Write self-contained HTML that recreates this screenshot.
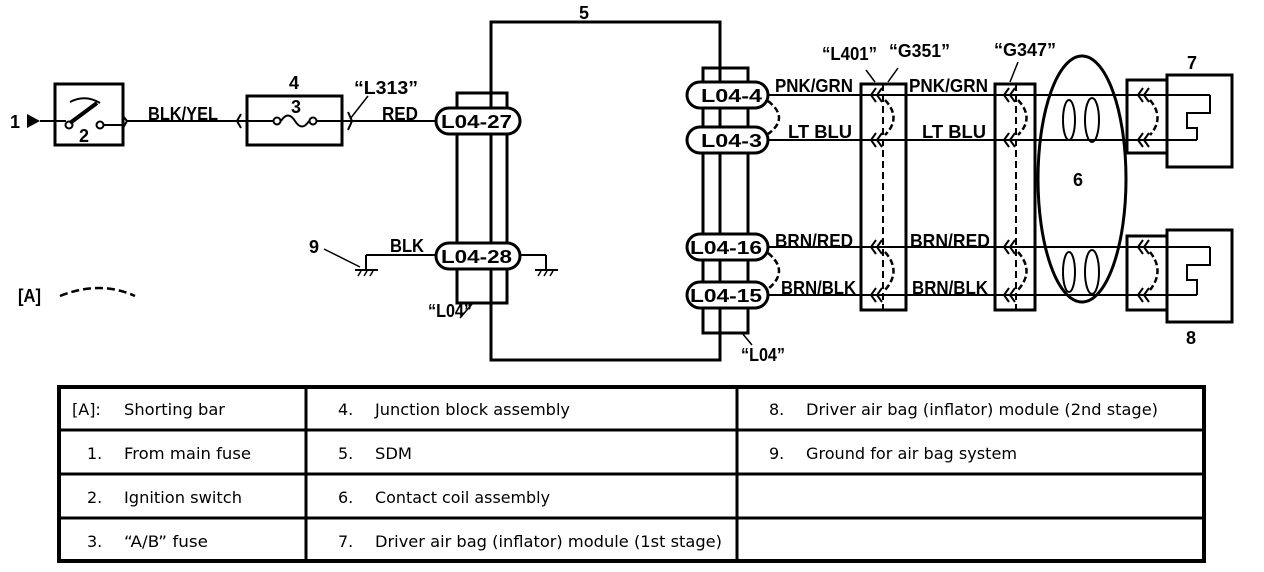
<!DOCTYPE html>
<html><head><meta charset="utf-8"><style>
html,body{margin:0;padding:0;background:#fff;}
svg{display:block;}
text{font-family:"Liberation Sans",Arial,sans-serif;font-weight:bold;font-size:18px;fill:#000;}
.t{font-family:"DejaVu Sans","Liberation Sans",sans-serif;font-weight:normal;font-size:16px;}
</style></head><body>
<svg width="1264" height="572" viewBox="0 0 1264 572" xmlns="http://www.w3.org/2000/svg">
<defs>
<g id="dbl" fill="none" stroke="#000" stroke-width="2">
<path d="M-4,-7 L-9,0 L-4,7"/><path d="M2,-7 L-3,0 L2,7"/>
</g>
</defs>
<g stroke="#000" fill="none">
<rect x="491" y="22" width="229" height="338" stroke-width="3"/>
<rect x="457" y="93" width="50" height="210" stroke-width="3" fill="none"/>
<rect x="703" y="68" width="45" height="265" stroke-width="3"/>
<polygon points="27,114 27,128 40,121" fill="#000" stroke="none"/>
<line x1="40" y1="121" x2="66" y2="121" stroke-width="2"/>
<rect x="55" y="84" width="68" height="61" stroke-width="3"/>
<circle cx="69" cy="125" r="3.5" stroke-width="2" fill="#fff"/>
<circle cx="100" cy="125" r="3.5" stroke-width="2" fill="#fff"/>
<line x1="70" y1="123" x2="97" y2="103" stroke-width="4"/>
<path d="M70,102 Q85,94 100,103" stroke-width="2"/>
<line x1="104" y1="125" x2="123" y2="125" stroke-width="2"/>
<path d="M123,116 L127,121 L123,128" stroke-width="2"/>
<line x1="127" y1="121" x2="237" y2="121" stroke-width="2"/>
<path d="M241,114 L237,121 L241,128" stroke-width="2"/>
<line x1="237" y1="121" x2="274" y2="121" stroke-width="2"/>
<rect x="247" y="96" width="95" height="49" stroke-width="3"/>
<circle cx="277" cy="121" r="3.5" stroke-width="2" fill="#fff"/>
<circle cx="313" cy="121" r="3.5" stroke-width="2" fill="#fff"/>
<path d="M281,121 Q288,110 295,121 Q302,132 309,121" stroke-width="2"/>
<line x1="316" y1="121" x2="435" y2="121" stroke-width="2"/>
<path d="M348,112 L352,121 L348,130" stroke-width="2"/>
<line x1="350" y1="119" x2="368" y2="96" stroke-width="1.5"/>
<rect x="436" y="108" width="84" height="26" rx="13" stroke-width="3" fill="#fff"/>
<rect x="436" y="243" width="84" height="26" rx="13" stroke-width="3" fill="#fff"/>
<line x1="491" y1="22" x2="491" y2="108" stroke-width="3"/>
<line x1="491" y1="134" x2="491" y2="243" stroke-width="3"/>
<line x1="491" y1="269" x2="491" y2="360" stroke-width="3"/>
<line x1="366" y1="270" x2="366" y2="255" stroke-width="2"/>
<line x1="366" y1="255" x2="436" y2="255" stroke-width="2"/>
<line x1="355" y1="270" x2="378" y2="270" stroke-width="2"/>
<path d="M358,276 l3,-5 M364,276 l3,-5 M370,276 l3,-5" stroke-width="1.5"/>
<line x1="324" y1="249" x2="360" y2="267" stroke-width="1.5"/>
<line x1="520" y1="255" x2="546" y2="255" stroke-width="2"/>
<line x1="546" y1="255" x2="546" y2="270" stroke-width="2"/>
<line x1="535" y1="270" x2="558" y2="270" stroke-width="2"/>
<path d="M538,276 l3,-5 M544,276 l3,-5 M550,276 l3,-5" stroke-width="1.5"/>
<line x1="473" y1="303" x2="460" y2="318" stroke-width="1.5"/>
<path d="M60,296 Q100,280 135,296" stroke-width="2.5" stroke-dasharray="8,4"/>
<line x1="768" y1="95" x2="1210" y2="95" stroke-width="2"/>
<line x1="768" y1="140" x2="1197" y2="140" stroke-width="2"/>
<line x1="768" y1="247" x2="1210" y2="247" stroke-width="2"/>
<line x1="768" y1="295" x2="1197" y2="295" stroke-width="2"/>
<rect x="687" y="82" width="81" height="26" rx="13" stroke-width="3" fill="#fff"/>
<rect x="687" y="127" width="81" height="26" rx="13" stroke-width="3" fill="#fff"/>
<rect x="687" y="234" width="81" height="26" rx="13" stroke-width="3" fill="#fff"/>
<rect x="687" y="282" width="81" height="26" rx="13" stroke-width="3" fill="#fff"/>
<line x1="720" y1="68" x2="720" y2="82" stroke-width="3"/>
<line x1="720" y1="108" x2="720" y2="127" stroke-width="3"/>
<line x1="720" y1="153" x2="720" y2="234" stroke-width="3"/>
<line x1="720" y1="260" x2="720" y2="282" stroke-width="3"/>
<line x1="720" y1="308" x2="720" y2="360" stroke-width="3"/>
<path d="M768,101 Q790,118 768,134" stroke-width="2.5" stroke-dasharray="6,3"/>
<path d="M768,253 Q790,271 768,289" stroke-width="2.5" stroke-dasharray="6,3"/>
<line x1="742" y1="333" x2="752" y2="345" stroke-width="1.5"/>
<rect x="861" y="84" width="45" height="226" stroke-width="3"/>
<line x1="883" y1="84" x2="883" y2="310" stroke-width="2" stroke-dasharray="7,4"/>
<path d="M885,100 Q902,118 885,135" stroke-width="2.5" stroke-dasharray="6,3"/>
<path d="M885,252 Q902,271 885,290" stroke-width="2.5" stroke-dasharray="6,3"/>
<line x1="875" y1="82" x2="866" y2="70" stroke-width="1.5"/>
<line x1="888" y1="82" x2="898" y2="68" stroke-width="1.5"/>
<rect x="995" y="84" width="40" height="226" stroke-width="3"/>
<line x1="1016" y1="84" x2="1016" y2="310" stroke-width="2" stroke-dasharray="7,4"/>
<path d="M1018,100 Q1035,118 1018,135" stroke-width="2.5" stroke-dasharray="6,3"/>
<path d="M1018,252 Q1035,271 1018,290" stroke-width="2.5" stroke-dasharray="6,3"/>
<line x1="1010" y1="82" x2="1018" y2="62" stroke-width="1.5"/>
<ellipse cx="1082" cy="179" rx="44" ry="123" stroke-width="3"/>
<ellipse cx="1069" cy="120" rx="6" ry="20" stroke-width="2"/>
<ellipse cx="1092" cy="120" rx="7" ry="22" stroke-width="2"/>
<ellipse cx="1069" cy="272" rx="6" ry="20" stroke-width="2"/>
<ellipse cx="1092" cy="272" rx="7" ry="22" stroke-width="2"/>
<rect x="1127" y="80" width="40" height="73" stroke-width="3"/>
<rect x="1167" y="75" width="65" height="92" stroke-width="3"/>
<path d="M1210,95 L1210,113 L1187,113 L1187,128 L1197,128 L1197,140" stroke-width="2"/>
<path d="M1150,100 Q1165,118 1150,135" stroke-width="2.5" stroke-dasharray="6,3"/>
<rect x="1127" y="236" width="40" height="74" stroke-width="3"/>
<rect x="1167" y="230" width="65" height="92" stroke-width="3"/>
<path d="M1210,247 L1210,265 L1187,265 L1187,280 L1197,280 L1197,295" stroke-width="2"/>
<path d="M1150,252 Q1165,271 1150,290" stroke-width="2.5" stroke-dasharray="6,3"/>
</g>
<g>
<use href="#dbl" x="880" y="95"/><use href="#dbl" x="880" y="140"/><use href="#dbl" x="880" y="247"/><use href="#dbl" x="880" y="295"/>
<use href="#dbl" x="1013" y="95"/><use href="#dbl" x="1013" y="140"/><use href="#dbl" x="1013" y="247"/><use href="#dbl" x="1013" y="295"/>
<use href="#dbl" x="1147" y="95"/><use href="#dbl" x="1147" y="140"/><use href="#dbl" x="1147" y="247"/><use href="#dbl" x="1147" y="295"/>
</g>
<text x="10" y="128">1</text>
<text x="79" y="142">2</text>
<text x="291" y="113">3</text>
<text x="289" y="89">4</text>
<text x="579" y="19">5</text>
<text x="1073" y="186">6</text>
<text x="1187" y="69">7</text>
<text x="1186" y="344">8</text>
<text x="309" y="253">9</text>
<text x="18" y="302" textLength="23" lengthAdjust="spacingAndGlyphs">[A]</text>
<text x="148" y="120" textLength="70" lengthAdjust="spacingAndGlyphs">BLK/YEL</text>
<text x="354" y="94" textLength="64" lengthAdjust="spacingAndGlyphs">“L313”</text>
<text x="382" y="120" textLength="36" lengthAdjust="spacingAndGlyphs">RED</text>
<text x="441" y="128" textLength="71" lengthAdjust="spacingAndGlyphs">L04-27</text>
<text x="390" y="252" textLength="34" lengthAdjust="spacingAndGlyphs">BLK</text>
<text x="441" y="263" textLength="71" lengthAdjust="spacingAndGlyphs">L04-28</text>
<text x="428" y="317" textLength="44" lengthAdjust="spacingAndGlyphs">“L04”</text>
<text x="741" y="361" textLength="44" lengthAdjust="spacingAndGlyphs">“L04”</text>
<text x="701" y="102" textLength="61" lengthAdjust="spacingAndGlyphs">L04-4</text>
<text x="701" y="147" textLength="61" lengthAdjust="spacingAndGlyphs">L04-3</text>
<text x="690" y="254" textLength="72" lengthAdjust="spacingAndGlyphs">L04-16</text>
<text x="690" y="302" textLength="72" lengthAdjust="spacingAndGlyphs">L04-15</text>
<text x="775" y="92" textLength="78" lengthAdjust="spacingAndGlyphs">PNK/GRN</text>
<text x="788" y="138" textLength="64" lengthAdjust="spacingAndGlyphs">LT BLU</text>
<text x="775" y="247" textLength="78" lengthAdjust="spacingAndGlyphs">BRN/RED</text>
<text x="781" y="294" textLength="75" lengthAdjust="spacingAndGlyphs">BRN/BLK</text>
<text x="909" y="92" textLength="79" lengthAdjust="spacingAndGlyphs">PNK/GRN</text>
<text x="922" y="138" textLength="64" lengthAdjust="spacingAndGlyphs">LT BLU</text>
<text x="910" y="247" textLength="80" lengthAdjust="spacingAndGlyphs">BRN/RED</text>
<text x="912" y="294" textLength="76" lengthAdjust="spacingAndGlyphs">BRN/BLK</text>
<text x="822" y="60" textLength="55" lengthAdjust="spacingAndGlyphs">“L401”</text>
<text x="889" y="57" textLength="61" lengthAdjust="spacingAndGlyphs">“G351”</text>
<text x="994" y="56" textLength="62" lengthAdjust="spacingAndGlyphs">“G347”</text>
<g stroke="#000" fill="none">
<rect x="59" y="387" width="1145" height="174" stroke-width="4"/>
<line x1="59" y1="430" x2="1204" y2="430" stroke-width="3"/>
<line x1="59" y1="474" x2="1204" y2="474" stroke-width="3"/>
<line x1="59" y1="518" x2="1204" y2="518" stroke-width="3"/>
<line x1="306" y1="387" x2="306" y2="561" stroke-width="3"/>
<line x1="737" y1="387" x2="737" y2="561" stroke-width="3"/>
</g>
<text class="t" x="72" y="415">[A]:</text><text class="t" x="124" y="415" textLength="101" lengthAdjust="spacingAndGlyphs">Shorting bar</text>
<text class="t" x="87" y="459">1.</text><text class="t" x="124" y="459" textLength="127" lengthAdjust="spacingAndGlyphs">From main fuse</text>
<text class="t" x="87" y="503">2.</text><text class="t" x="124" y="503" textLength="118" lengthAdjust="spacingAndGlyphs">Ignition switch</text>
<text class="t" x="87" y="547">3.</text><text class="t" x="124" y="547" textLength="84" lengthAdjust="spacingAndGlyphs">“A/B” fuse</text>
<text class="t" x="338" y="415">4.</text><text class="t" x="375" y="415" textLength="195" lengthAdjust="spacingAndGlyphs">Junction block assembly</text>
<text class="t" x="338" y="459">5.</text><text class="t" x="375" y="459" textLength="37" lengthAdjust="spacingAndGlyphs">SDM</text>
<text class="t" x="338" y="503">6.</text><text class="t" x="375" y="503" textLength="175" lengthAdjust="spacingAndGlyphs">Contact coil assembly</text>
<text class="t" x="338" y="547">7.</text><text class="t" x="375" y="547" textLength="347" lengthAdjust="spacingAndGlyphs">Driver air bag (inflator) module (1st stage)</text>
<text class="t" x="769" y="415">8.</text><text class="t" x="806" y="415" textLength="352" lengthAdjust="spacingAndGlyphs">Driver air bag (inflator) module (2nd stage)</text>
<text class="t" x="769" y="459">9.</text><text class="t" x="806" y="459" textLength="211" lengthAdjust="spacingAndGlyphs">Ground for air bag system</text>
</svg>
</body></html>
